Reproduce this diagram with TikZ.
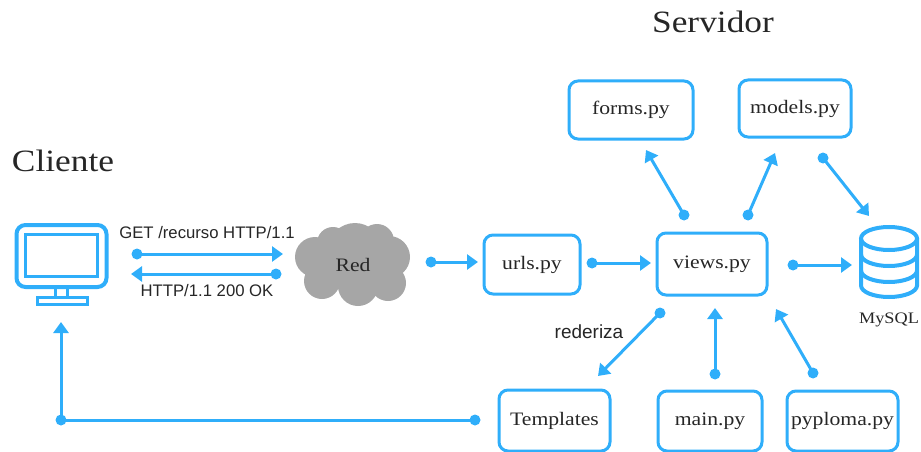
\documentclass[tikz,border=0pt]{standalone}
\usepackage{fontspec}
\usepackage{xcolor}
\usetikzlibrary{shapes,arrows.meta}
\setmainfont{Liberation Serif}[FakeStretch=1.14]
\newfontfamily\labelfont{Liberation Sans}
\definecolor{colo}{HTML}{2FAEFA}
\definecolor{ink}{HTML}{262626}
\definecolor{cloudgray}{HTML}{A6A6A6}
\tikzstyle{every node}=[text=ink,font=\fontsize{19}{21}\selectfont]
\tikzstyle{filebox}=[draw=colo,line width=3pt,rounded corners=9pt,inner sep=0pt,fill=white]
\tikzstyle{dotnode}=[circle,fill=colo,inner sep=0pt,outer sep=0pt,minimum size=11pt]
\tikzstyle{link}=[draw=colo,line width=3pt,shorten <=-2pt,-{Triangle[length=11pt,width=15pt]}]
\tikzstyle{note}=[font=\labelfont\fontsize{16.7}{18}\selectfont]
\tikzstyle{title}=[font=\fontsize{31}{34}\selectfont]
\tikzstyle{icon}=[colo,line width=4pt]

\begin{document}
\begin{tikzpicture}[x=1pt,y=-1pt]
\useasboundingbox (0,0) rectangle (921,452);
\node[title] (servidor) at (713,22) {Servidor};
\node[title] (cliente) at (63,161) {Cliente};
\node[filebox, minimum width=124pt, minimum height=58pt] (forms) at (631,110) {forms.py};
\node[filebox, minimum width=112pt, minimum height=57pt] (models) at (795,108.5) {models.py};
\node[filebox, minimum width=96pt, minimum height=59pt] (urls) at (532,264.5) {urls.py};
\node[filebox, minimum width=110pt, minimum height=62pt] (views) at (712,264) {views.py};
\node[filebox, minimum width=111pt, minimum height=61pt] (templates) at (554.5,420.5) {Templates};
\node[filebox, minimum width=104pt, minimum height=60pt] (mainpy) at (710,421) {main.py};
\node[filebox, minimum width=111pt, minimum height=60pt] (pyploma) at (842.5,421) {pyploma.py};
\fill[cloudgray] (355,250) circle (27) (315,257) circle (20) (389,257) circle (21) (322,281) circle (18) (358,286) circle (20) (388,283) circle (18) (333,243) circle (16) (377,241) circle (17) (353,265) circle (25);
\node (red) at (353,265) {Red};
\node[font=\fontsize{16}{18}\selectfont] (mysql) at (889,320) {MySQL};
\node[note] (get) at (207,233) {GET /recurso HTTP/1.1};
\node[note] (ok) at (207,291) {HTTP/1.1 200 OK};
\node[note, font=\labelfont\fontsize{19}{21}\selectfont] (rederiza) at (589,332) {rederiza};

\node[draw=colo, line width=4pt, rounded corners=9pt, minimum width=90pt, minimum height=62pt] (pc) at (61.5,256) {};
\node[draw=colo, line width=3pt, minimum width=72pt, minimum height=42pt] (screen) at (61.5,255.5) {};
\draw[colo, line width=3pt] (55,288) -- (55,297) (67,288) -- (67,297);
\draw[colo, line width=3pt] (37,297) rectangle (87,304);

\draw[icon] (889,238.5) ellipse[x radius=28, y radius=11.5];
\draw[icon] (861,238.5) -- (861,285.5) arc[start angle=180, end angle=0, x radius=28, y radius=11.5] -- (917,238.5);
\draw[icon] (861,254.5) arc[start angle=180, end angle=0, x radius=28, y radius=11.5];
\draw[icon] (861,270.5) arc[start angle=180, end angle=0, x radius=28, y radius=11.5];

\node[dotnode] (d1) at (137,254) {};
\node[dotnode] (d2) at (276,274) {};
\node[dotnode] (d3) at (431,262) {};
\node[dotnode] (d4) at (592,263) {};
\node[dotnode] (d5) at (793,265) {};
\node[dotnode] (d6) at (684,215) {};
\node[dotnode] (d7) at (748,215) {};
\node[dotnode] (d8) at (823,158) {};
\node[dotnode] (d9) at (660,313) {};
\node[dotnode] (d10) at (715,374) {};
\node[dotnode] (d11) at (813,373) {};
\node[dotnode] (d12) at (475,420) {};
\node[dotnode] (d13) at (61,420) {};
\coordinate (e1) at (283,254);
\coordinate (e2) at (131,274);
\coordinate (e3) at (478,262);
\coordinate (e4) at (651,263);
\coordinate (e5) at (852,265);
\coordinate (e6) at (646,150);
\coordinate (e7) at (775,153);
\coordinate (e8) at (869,216);
\coordinate (e9) at (598,376);
\coordinate (e10) at (715,308);
\coordinate (e11) at (776,309);
\coordinate (e13) at (61,322);
\draw[link] (d1) -- (e1);
\draw[link] (d2) -- (e2);
\draw[link] (d3) -- (e3);
\draw[link] (d4) -- (e4);
\draw[link] (d5) -- (e5);
\draw[link] (d6) -- (e6);
\draw[link] (d7) -- (e7);
\draw[link] (d8) -- (e8);
\draw[link] (d9) -- (e9);
\draw[link] (d10) -- (e10);
\draw[link] (d11) -- (e11);
\draw[link] (d13) -- (e13);
\draw[draw=colo, line width=3pt, shorten <=-2pt, shorten >=-2pt] (d12) -- (d13);
\end{tikzpicture}
\end{document}
